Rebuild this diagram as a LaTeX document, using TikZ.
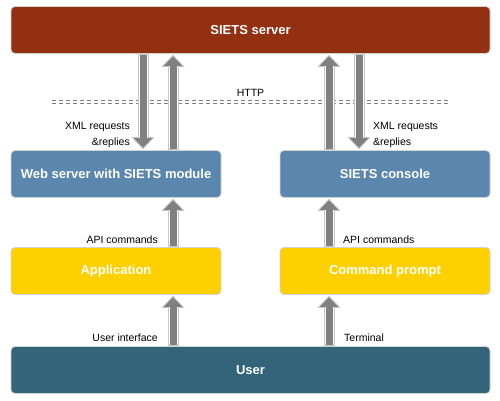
\documentclass[tikz,border=0pt]{standalone}
\usepackage{fontspec}
\setmainfont{Liberation Sans}
\usetikzlibrary{arrows.meta}
\definecolor{srvred}{RGB}{147,48,18}
\definecolor{modblue}{RGB}{91,135,174}
\definecolor{appyellow}{RGB}{255,208,0}
\definecolor{userteal}{RGB}{51,100,122}
\tikzset{
  box/.style={rectangle, rounded corners=4pt, draw=gray!35, line width=0.8pt, minimum height=47pt, text=white, font=\bfseries\fontsize{13}{15}\selectfont},
  lbl/.style={font=\fontsize{10.5}{16}\selectfont, inner sep=0pt},
  bigarrow/.style={line width=11pt, draw=gray!45, shorten >=1pt,
    -{Triangle[length=12pt,width=23pt,line width=0.8pt,fill=gray]},
    postaction={draw=white, line width=9pt, shorten >=12pt, shorten <=1pt, -},
    postaction={draw=gray, line width=7pt, shorten >=11pt, shorten <=1pt, -}},
  httpline/.style={draw=gray, line width=0.8pt, dash pattern=on 4pt off 3pt}
}

\begin{document}
\begin{tikzpicture}[x=1pt,y=-1pt]
    \useasboundingbox (0,0) rectangle (500,400);
    % Nodes
    \node[box, fill=srvred, minimum width=479pt] (srv) at (250.5,30) {SIETS server};
    \node[box, fill=modblue, minimum width=210pt] (web) at (116,174) {Web server with SIETS module};
    \node[box, fill=modblue, minimum width=210pt] (con) at (385,174) {SIETS console};
    \node[box, fill=appyellow, minimum width=210pt] (app) at (116,271) {Application};
    \node[box, fill=appyellow, minimum width=210pt] (cmd) at (385,271) {Command prompt};
    \node[box, fill=userteal, minimum width=479pt] (usr) at (250.5,370) {User};

    % HTTP boundary
    \draw[httpline] (52,100) -- (449,100);
    \draw[httpline] (52,103.5) -- (449,103.5);
    \node[lbl] (http) at (250.5,93) {HTTP};

    % Edges
    \draw[bigarrow] (143,0 |- srv.south) -- (143,0 |- web.north);
    \draw[bigarrow] (173,0 |- web.north) -- (173,0 |- srv.south);
    \draw[bigarrow] (329,0 |- con.north) -- (329,0 |- srv.south);
    \draw[bigarrow] (359,0 |- srv.south) -- (359,0 |- con.north);

    \draw[bigarrow] (173,0 |- app.north) -- (173,0 |- web.south);
    \draw[bigarrow] (329,0 |- cmd.north) -- (329,0 |- con.south);

    \draw[bigarrow] (173,0 |- usr.north) -- (173,0 |- app.south);
    \draw[bigarrow] (329,0 |- usr.north) -- (329,0 |- cmd.south);

    % Labels
    \node[lbl, anchor=east, align=right] (xmlL) at (130,135) {XML requests\\\&replies};
    \node[lbl, anchor=west, align=left] (xmlR) at (373,135) {XML requests\\\&replies};
    \node[lbl, anchor=east] (apiL) at (158,240) {API commands};
    \node[lbl, anchor=west] (apiR) at (343,240) {API commands};
    \node[lbl, anchor=east] (uiL) at (158,338) {User interface};
    \node[lbl, anchor=west] (term) at (344,338) {Terminal};
\end{tikzpicture}
\end{document}
